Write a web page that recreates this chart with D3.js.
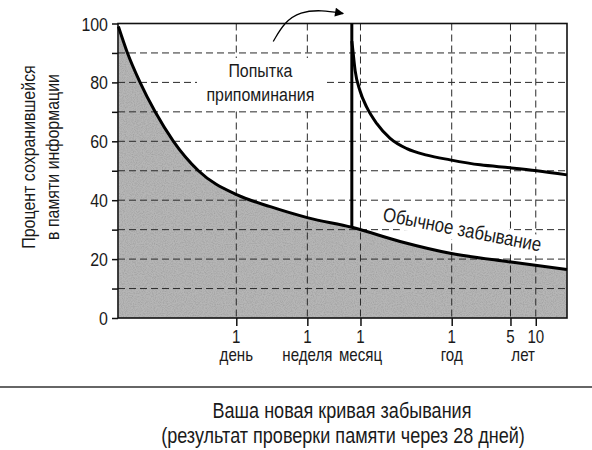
<!DOCTYPE html>
<html>
<head>
<meta charset="utf-8">
<script src="https://cdn.jsdelivr.net/npm/d3@7"></script>
<style>
  body { margin: 0; background: #fff; }
  svg { display: block; }
  text { font-family: "Liberation Sans", Arial, sans-serif; fill: #1a1a1a; }
</style>
</head>
<body>
<svg id="chart" width="592" height="450"></svg>
<script>
// time in hours since learning, retention in percent
const forgetHours = [0.95, 1.2, 1.72, 2.6, 4.29, 8.51, 24.6, 61, 172, 568, 2130, 8380, 44600, 206000];
const forgetPct = [99, 90.5, 80, 70, 60, 50, 41.8, 37.8, 34, 30.8, 26, 22, 19, 16.5];

const recallHours = [568, 584, 622, 713, 857, 1127, 1622, 2564, 4433, 8390, 19100, 43400, 90100, 206000];
const recallPct = [94, 91, 84, 77, 71.5, 66, 61, 57.5, 55.3, 53.7, 52, 51, 50, 48.6];
const recallAt = 568;

const tickHours = [24, 168, 720, 8760, 43800, 87600];
const tickNum = ["1", "1", "1", "1", "5", "10"];
const tickWord = ["день", "неделя", "месяц", "год", "", ""];
const yearsWord = "лет";

const yTicks = [0, 10, 20, 30, 40, 50, 60, 70, 80, 90, 100];

// arrow from the label up to the top of the recall line
const arrowHours = [66, 90, 138, 250, 448];
const arrowPct = [93.9, 100.5, 104, 104.6, 103.4];

const svg = d3.select("#chart");
const mLeft = 118, mRight = 567, mTop = 23.5, mBottom = 318;
const narrow = 0.84; // condensed look of the original type

const x = d3.scaleLog().domain([0.94, 206000]).range([mLeft, mRight]);
const y = d3.scaleLinear().domain([0, 100]).range([mBottom, mTop]);

const forget = forgetHours.map((h, i) => [h, forgetPct[i]]);
const recall = recallHours.map((h, i) => [h, recallPct[i]]);

function ntext(parent, tx, ty, str, size, anchor = "middle", rot = 0) {
  return parent.append("text")
    .attr("transform", `translate(${tx},${ty}) rotate(${rot}) scale(${narrow},1)`)
    .attr("text-anchor", anchor)
    .attr("font-size", size)
    .text(str);
}

const defs = svg.append("defs");

// printed grain on the grey fill
const grain = defs.append("filter").attr("id", "grain");
grain.append("feTurbulence")
  .attr("type", "fractalNoise").attr("baseFrequency", 0.9)
  .attr("numOctaves", 2).attr("seed", 3).attr("result", "noise");
grain.append("feColorMatrix")
  .attr("in", "noise").attr("type", "matrix")
  .attr("values", "0 0 0 0 0  0 0 0 0 0  0 0 0 0 0  0 0 0 -0.45 0.28")
  .attr("result", "dots");
grain.append("feComposite")
  .attr("in", "dots").attr("in2", "SourceGraphic").attr("operator", "in")
  .attr("result", "clipped");
const merge = grain.append("feMerge");
merge.append("feMergeNode").attr("in", "SourceGraphic");
merge.append("feMergeNode").attr("in", "clipped");

// shaded area under normal forgetting
const area = d3.area()
  .x(d => x(d[0]))
  .y0(y(0))
  .y1(d => y(d[1]))
  .curve(d3.curveMonotoneX);

svg.append("path")
  .datum(forget)
  .attr("d", area)
  .attr("fill", "#b6b6b6")
  .attr("filter", "url(#grain)");

// grid
const grid = svg.append("g")
  .attr("stroke", "#2a2a2a")
  .attr("stroke-width", 1)
  .attr("stroke-dasharray", "7,4");

grid.selectAll("line.h")
  .data(yTicks.filter(v => v > 0 && v < 100))
  .join("line")
  .attr("class", "h")
  .attr("x1", mLeft).attr("x2", mRight)
  .attr("y1", d => y(d)).attr("y2", d => y(d));

grid.selectAll("line.v")
  .data(tickHours)
  .join("line")
  .attr("class", "v")
  .attr("x1", d => x(d)).attr("x2", d => x(d))
  .attr("y1", mTop).attr("y2", mBottom);

// white knockouts behind labels
svg.append("rect")
  .attr("x", 197).attr("y", 58)
  .attr("width", 130).attr("height", 52)
  .attr("fill", "#fff");

const normLabelX = x(11300), normLabelY = y(27.8);
svg.append("rect")
  .attr("x", -84).attr("y", -16)
  .attr("width", 168).attr("height", 21)
  .attr("fill", "#fff")
  .attr("transform", `translate(${normLabelX},${normLabelY}) rotate(11)`);

// frame
svg.append("rect")
  .attr("x", mLeft).attr("y", mTop)
  .attr("width", mRight - mLeft).attr("height", mBottom - mTop)
  .attr("fill", "none")
  .attr("stroke", "#111")
  .attr("stroke-width", 1.6);

// y axis ticks and labels
const yAxis = svg.append("g")
  .attr("transform", `translate(${mLeft},0)`)
  .call(d3.axisLeft(y).tickValues(yTicks).tickSize(6).tickFormat(""));
yAxis.select(".domain").remove();
yAxis.selectAll("line").attr("stroke", "#111").attr("stroke-width", 1.5);

const yl = svg.append("g");
yTicks.filter(v => v % 20 === 0).forEach(v => ntext(yl, 108, y(v) + 7, v, 19, "end"));

// x axis ticks and labels
const xAxis = svg.append("g")
  .attr("transform", `translate(0,${mBottom})`)
  .call(d3.axisBottom(x).tickValues(tickHours).tickSize(8).tickFormat(""));
xAxis.select(".domain").remove();
xAxis.selectAll("line").attr("stroke", "#111").attr("stroke-width", 1.5);

const xl = svg.append("g");
tickHours.forEach((h, i) => {
  ntext(xl, x(h), 343, tickNum[i], 18);
  if (tickWord[i]) ntext(xl, x(h), 361, tickWord[i], 18);
});
ntext(xl, x(Math.sqrt(tickHours[4] * tickHours[5])), 361, yearsWord, 18);

// curves
const line = d3.line()
  .x(d => x(d[0]))
  .y(d => y(d[1]))
  .curve(d3.curveMonotoneX);

svg.append("path")
  .datum(forget)
  .attr("d", line)
  .attr("fill", "none")
  .attr("stroke", "#000")
  .attr("stroke-width", 3);

svg.append("line")
  .attr("x1", x(recallAt)).attr("x2", x(recallAt))
  .attr("y1", y(100)).attr("y2", y(30.8))
  .attr("stroke", "#000")
  .attr("stroke-width", 3);

svg.append("path")
  .datum(recall)
  .attr("d", line)
  .attr("fill", "none")
  .attr("stroke", "#000")
  .attr("stroke-width", 3);

// arrow
defs.append("marker")
  .attr("id", "head")
  .attr("viewBox", "0 0 10 10")
  .attr("refX", 9).attr("refY", 5)
  .attr("markerWidth", 11).attr("markerHeight", 9)
  .attr("markerUnits", "userSpaceOnUse")
  .attr("orient", "auto")
  .append("path")
  .attr("d", "M0,0L10,5L0,10z")
  .attr("fill", "#000");

svg.append("path")
  .datum(arrowHours.map((h, i) => [h, arrowPct[i]]))
  .attr("d", d3.line().x(d => x(d[0])).y(d => y(d[1])).curve(d3.curveBasis))
  .attr("fill", "none")
  .attr("stroke", "#000")
  .attr("stroke-width", 1.3)
  .attr("marker-end", "url(#head)");

// labels
ntext(svg, x(46.4), 76.7, "Попытка", 19);
ntext(svg, x(46.4), 101, "припоминания", 19);
ntext(svg, normLabelX, normLabelY, "Обычное забывание", 20, "middle", 11);

ntext(svg, 35, 157, "Процент сохранившейся", 19, "middle", -90);
ntext(svg, 59, 157, "в памяти информации", 19, "middle", -90);

// separator and caption
svg.append("line")
  .attr("x1", 0).attr("x2", 592)
  .attr("y1", 387).attr("y2", 387)
  .attr("stroke", "#333")
  .attr("stroke-width", 1.5);

ntext(svg, 342, 418, "Ваша новая кривая забывания", 21.5);
ntext(svg, 343, 443, "(результат проверки памяти через 28 дней)", 21.5);
</script>
</body>
</html>
